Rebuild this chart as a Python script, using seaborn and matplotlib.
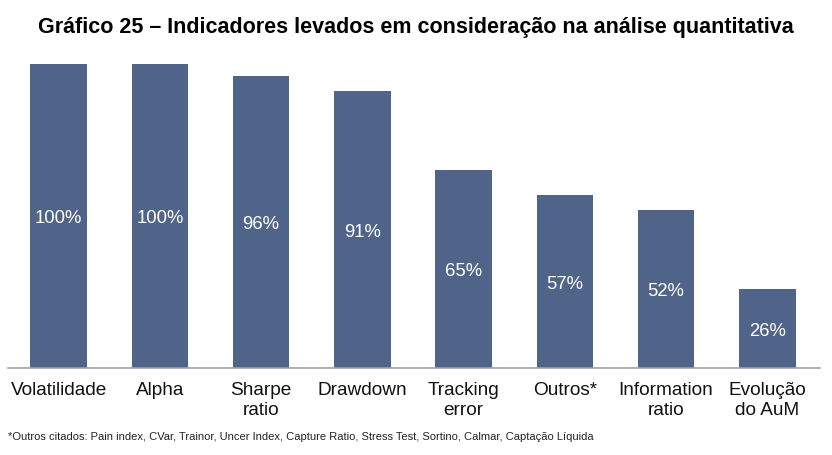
import matplotlib
matplotlib.use("Agg")
import matplotlib.pyplot as plt
import seaborn as sns
import pandas as pd

categories = ["Volatilidade", "Alpha", "Sharpe\nratio", "Drawdown", "Tracking\nerror",
              "Outros*", "Information\nratio", "Evolução\ndo AuM"]
values = [100, 100, 96, 91, 65, 57, 52, 26]
labels = ["100%", "100%", "96%", "91%", "65%", "57%", "52%", "26%"]

title = "Gráfico 25 – Indicadores levados em consideração na análise quantitativa"
footnote = ("*Outros citados: Pain index, CVar, Trainor, Uncer Index, Capture Ratio, "
            "Stress Test, Sortino, Calmar, Captação Líquida")

sns.set_theme(style="white")
plt.rcParams["font.family"] = ["Liberation Sans", "DejaVu Sans"]

df = pd.DataFrame({"cat": categories, "val": values})

fig = plt.figure(figsize=(8.32, 4.55), dpi=100)
ax = fig.add_axes([8 / 832, (455 - 368) / 455, 812 / 832, 304 / 455])
sns.barplot(data=df, x="cat", y="val", color="#506489", saturation=1,
            width=0.56, linewidth=0, ax=ax)
ax.set_xlim(-0.5, 7.52)
ax.set_ylim(0, 100)
for i, (v, t) in enumerate(zip(values, labels)):
    ax.annotate(t, (i, v / 2), xytext=(0, -2), textcoords="offset points",
                ha="center", va="center", color="white", fontsize=13.3)

ax.set_xlabel("")
ax.set_ylabel("")
ax.set_yticks([])
ax.tick_params(axis="x", length=0, pad=10, labelsize=13.7)
for lab in ax.get_xticklabels():
    lab.set_linespacing(1.25)
    lab.set_color("#111111")
for s in ["top", "right", "left"]:
    ax.spines[s].set_visible(False)
ax.spines["bottom"].set_color("#A0A0A0")
ax.spines["bottom"].set_linewidth(1.2)

fig.text(0.5, 1 - 28 / 455, title, ha="center", va="center",
         fontsize=15.5, fontweight="bold", color="black")
fig.text(8 / 832, 1 - 437 / 455, footnote, ha="left", va="center",
         fontsize=8.0, color="#222222")

fig.savefig("out.png", dpi=100)
